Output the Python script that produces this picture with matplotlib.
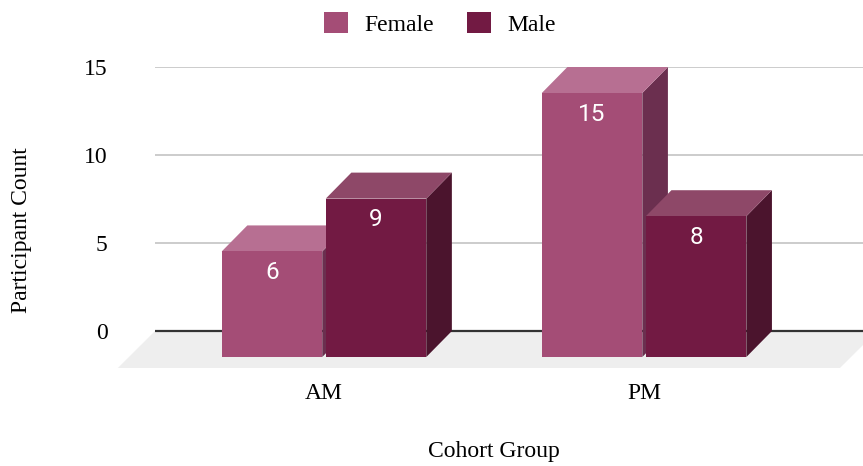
import matplotlib.pyplot as plt
from matplotlib.patches import Polygon, Patch

plt.rcParams["font.family"] = ["Liberation Serif", "DejaVu Serif"]

groups = ["AM", "PM"]
series = ["Female", "Male"]
female = [6, 15]
male = [9, 8]
values = [female, male]

front_cols = ["#a44d76", "#721a43"]
top_cols = ["#b76f92", "#8e4868"]
side_cols = ["#6b2f4f", "#4b142d"]

# fake-3D geometry, in data units (x: category, y: count)
bar_w = 0.314
gap = 0.011
DX = 0.080   # depth shift to the right
DY = 1.477   # depth shift upwards
FLOOR_DX = 0.116
FLOOR_DY = 2.10

fig = plt.figure(figsize=(8.63, 4.66), dpi=100)
ax = fig.add_axes([155 / 863, 98 / 466, 708 / 863, 301 / 466])
x_lo, x_hi = -0.528, 1.684
ax.set_xlim(x_lo, x_hi)
ax.set_ylim(-FLOOR_DY, 15)

for s in ax.spines.values():
    s.set_visible(False)

# floor
floor = Polygon([(x_lo, 0), (1.728, 0), (1.728 - FLOOR_DX, -FLOOR_DY),
                 (x_lo - FLOOR_DX, -FLOOR_DY)], closed=True,
                facecolor="#eeeeee", edgecolor="none", clip_on=False, zorder=1)
ax.add_patch(floor)

# gridlines on the back wall
for g in [5, 10, 15]:
    ax.axhline(g, color="#cccccc", lw=1.4, zorder=0)
ax.axhline(0, color="#333333", lw=1.6, zorder=2)

for si, vals in enumerate(values):
    for gi, v in enumerate(vals):
        if si == 0:
            x0 = gi - gap / 2 - bar_w
        else:
            x0 = gi + gap / 2
        x1 = x0 + bar_w
        front = Polygon([(x0, -DY), (x1, -DY), (x1, v - DY), (x0, v - DY)],
                        facecolor=front_cols[si], edgecolor="none", zorder=5)
        top = Polygon([(x0, v - DY), (x1, v - DY), (x1 + DX, v), (x0 + DX, v)],
                      facecolor=top_cols[si], edgecolor="none", zorder=4)
        side = Polygon([(x1, -DY), (x1 + DX, 0), (x1 + DX, v), (x1, v - DY)],
                       facecolor=side_cols[si], edgecolor="none", zorder=4)
        for p in (side, top, front):
            ax.add_patch(p)
        ax.text((x0 + x1) / 2, v - DY - 1.2, str(v), color="white",
                ha="center", va="center", fontsize=17.5, family="Roboto",
                zorder=6)

ax.set_yticks([0, 5, 10, 15])
ax.set_yticklabels(["0", "5", "10", "15"], fontsize=17)
ax.tick_params(axis="y", length=0, pad=34)
ax.set_xticks([0, 1])
ax.set_xticklabels(groups, fontsize=17)
ax.tick_params(axis="x", length=0, pad=11)

fig.text(22 / 863, 1 - 230 / 466, "Participant Count", rotation=90,
         ha="center", va="center", fontsize=17)
fig.text(494 / 863, 1 - 452 / 466, "Cohort Group",
         ha="center", va="center", fontsize=17)

handles = [Patch(facecolor=c, edgecolor="none") for c in front_cols]
fig.legend(handles, series, loc="center", ncol=2, frameon=False,
           bbox_to_anchor=(440 / 863, 1 - 24 / 466), fontsize=17,
           handlelength=1.0, handleheight=1.0, handletextpad=0.7,
           columnspacing=1.4)

fig.savefig("out.png", dpi=100)
